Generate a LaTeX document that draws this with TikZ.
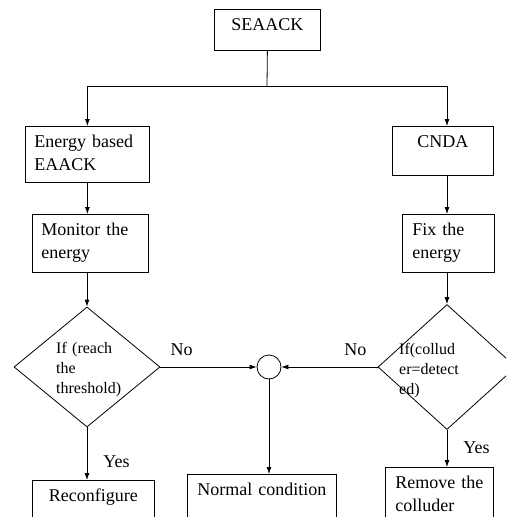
\documentclass[tikz,border=0pt]{standalone}
\usepackage{fontspec}
\setmainfont{Liberation Serif}
\usetikzlibrary{positioning}
\usetikzlibrary{shapes.geometric}
\usetikzlibrary{arrows.meta}

\tikzset{
  box/.style={draw, rectangle, anchor=north west, inner xsep=9pt, inner ysep=4pt,
    text height=17pt, line width=0.8pt, font=\fontsize{18}{23}\selectfont},
  decision/.style={draw, diamond, aspect=1.2, inner sep=0pt, line width=0.8pt},
  dtext/.style={anchor=base west, inner sep=0pt, text width=80pt, align=left,
    font=\fontsize{16}{20}\selectfont},
  lbl/.style={inner sep=1pt, font=\fontsize{18}{23}\selectfont},
  arr/.style={line width=0.8pt, -{Latex[length=7pt,width=5pt]}}
}

\begin{document}
\begin{tikzpicture}[x=1pt, y=-1pt]
    \useasboundingbox (0,0) rectangle (506,517);

        % Define nodes
        \node[box, minimum width=106pt, text width=88pt, text depth=16pt, align=center] (1) at (214,9) {SEAACK};
        \node[box, minimum width=124pt, text width=106pt, text depth=31pt, align=left] (2) at (25,126) {Energy based\\EAACK};
        \node[box, minimum width=101pt, text width=83pt, text depth=24pt, align=center] (3) at (392,126) {CNDA};
        \node[box, minimum width=116pt, text width=98pt, text depth=33pt, align=left] (4) at (32,214) {Monitor the\\energy};
        \node[box, inner xsep=10pt, minimum width=92pt, text width=72pt, text depth=33pt, align=left] (5) at (402,214) {Fix the\\energy};
        \node[decision, minimum width=146pt, minimum height=120pt] (6) at (87,367) {};
        \node[decision, minimum width=138pt, minimum height=125pt] (7) at (447,367) {};
        \node[dtext] (6t) at (56,353) {If (reach\\the\\threshold)};
        \node[dtext] (7t) at (399,354) {If(collud\\er=detect\\ed)};
        \node[draw, circle, minimum size=24pt, inner sep=0pt, line width=0.8pt] (8) at (269,367) {};
        \node[box, minimum width=122pt, text width=104pt, text depth=35pt, align=center] (9) at (32,480) {Reconfigure};
        \node[box, minimum width=149pt, text width=131pt, text depth=35pt, align=center] (10) at (187,474) {Normal condition};
        \node[box, inner xsep=10pt, minimum width=108pt, text width=88pt, text depth=35pt, align=left] (11) at (385,467) {Remove the\\colluder};
        \coordinate (j) at (267,86);

        % Connect the nodes
        \draw[line width=0.8pt] (1.south) -- (j);
        \draw[arr] (j) -| (2.north);
        \draw[arr] (j) -| (7 |- 3.north);
        \draw[arr] (2.south) -- (2.south |- 4.north);
        \draw[arr] (7 |- 3.south) -- (7 |- 5.north);
        \draw[arr] (6 |- 4.south) -- (6.north);
        \draw[arr] (7 |- 5.south) -- (7.north);
        \draw[arr] (6.east) -- node[lbl, pos=.22, yshift=17.5pt] (no1) {No} (8.west);
        \draw[arr] (7.west) -- node[lbl, pos=.23, yshift=17.5pt] (no2) {No} (8.east);
        \draw[arr] (8.south) -- (8.south |- 10.north);
        \draw[arr] (6.south) -- node[lbl, pos=.66, xshift=29.5pt] (yes1) {Yes} (6.south |- 9.north);
        \draw[arr] (7.south) -- node[lbl, pos=.49, xshift=29.5pt] (yes2) {Yes} (7.south |- 11.north);
      \end{tikzpicture}
\end{document}
